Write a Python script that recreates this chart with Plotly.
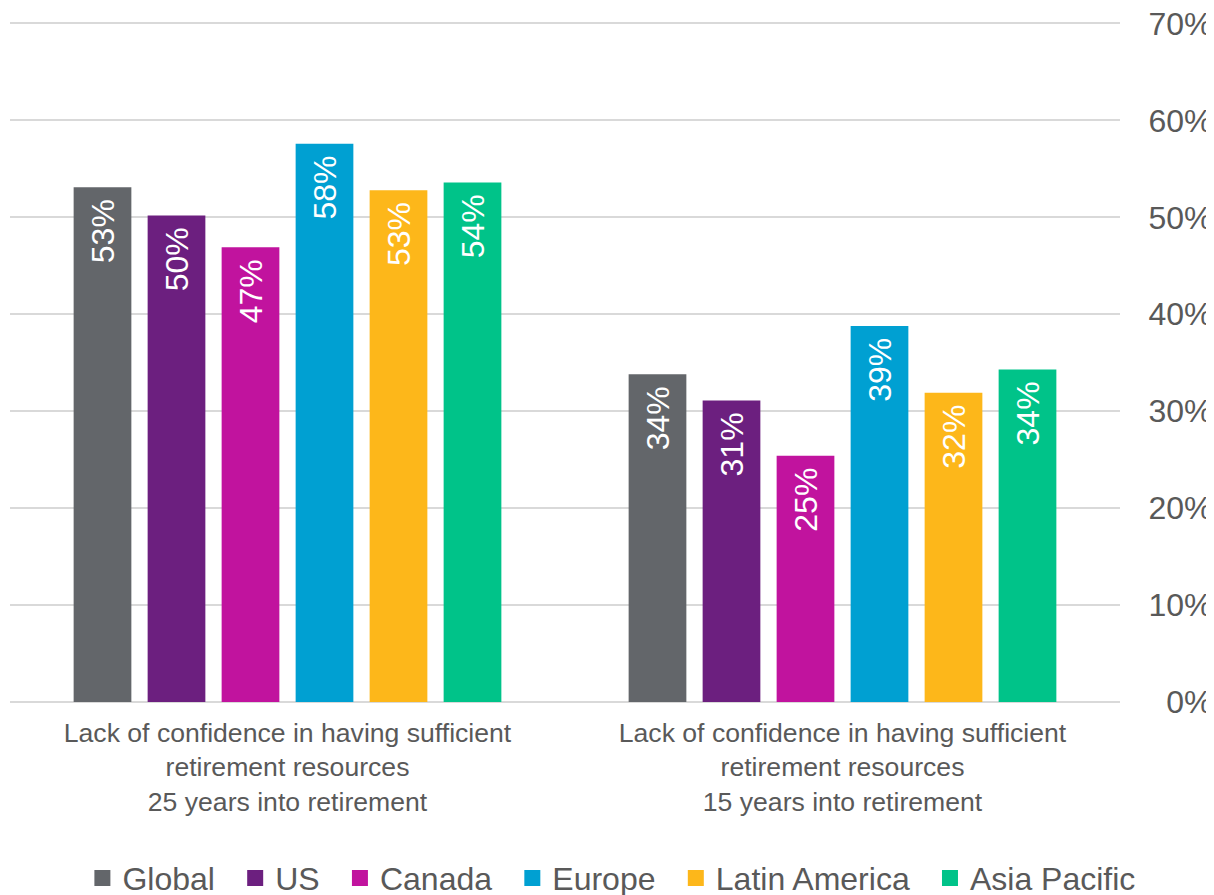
import plotly.graph_objects as go

categories = [
    "Lack of confidence in having sufficient<br>retirement resources<br>25 years into retirement",
    "Lack of confidence in having sufficient<br>retirement resources<br>15 years into retirement",
]
series_names = ["Global", "US", "Canada", "Europe", "Latin America", "Asia Pacific"]
series_values = {
    "Global": [53.1, 33.8],
    "US": [50.2, 31.1],
    "Canada": [46.9, 25.4],
    "Europe": [57.6, 38.8],
    "Latin America": [52.8, 31.9],
    "Asia Pacific": [53.6, 34.3],
}
series_labels = {
    "Global": ["53%", "34%"],
    "US": ["50%", "31%"],
    "Canada": ["47%", "25%"],
    "Europe": ["58%", "39%"],
    "Latin America": ["53%", "32%"],
    "Asia Pacific": ["54%", "34%"],
}
colors = {
    "Global": "#63666A",
    "US": "#6C1F7F",
    "Canada": "#C1139E",
    "Europe": "#00A0D2",
    "Latin America": "#FDB71A",
    "Asia Pacific": "#00C389",
}
tick_vals = [0, 10, 20, 30, 40, 50, 60, 70]
tick_text = ["\u20070%", "10%", "20%", "30%", "40%", "50%", "60%", "70%"]

FONT = "Liberation Sans, Arial, sans-serif"
GREY = "#595959"

fig = go.Figure()
for name in series_names:
    fig.add_trace(go.Bar(
        name=name,
        x=categories,
        y=series_values[name],
        text=[t + "\u00a0" for t in series_labels[name]],
        texttemplate="%{text}",
        textposition="inside",
        insidetextanchor="end",
        textangle=-90,
        textfont=dict(color="white", size=32, family=FONT),
        marker=dict(color=colors[name], line=dict(width=0)),
        hoverinfo="skip",
        showlegend=False,
    ))
# legend entries with larger square swatches
for name in series_names:
    fig.add_trace(go.Scatter(
        name=name + "\u00a0\u2009",
        x=[None], y=[None], mode="markers",
        marker=dict(symbol="square", size=16, color=colors[name], line=dict(width=0)),
        hoverinfo="skip", showlegend=True,
    ))

# page body has an 8px margin, so the figure is 8px smaller and shifted
fig.update_layout(
    width=1206, height=887,
    margin=dict(l=2, r=94, t=14, b=193, autoexpand=False),
    paper_bgcolor="white", plot_bgcolor="white",
    barmode="group", bargap=0.2, bargroupgap=0.22,
    font=dict(family=FONT, color=GREY),
    showlegend=True,
    legend=dict(
        orientation="h", x=0.549, xanchor="center",
        y=-0.259, yanchor="middle",
        font=dict(size=32, color=GREY, family=FONT),
        itemwidth=30, tracegroupgap=0,
    ),
    xaxis=dict(
        showgrid=False, showline=False, ticks="", automargin=False,
        tickfont=dict(size=26.6, color=GREY, family=FONT),
        ticklabelstandoff=12,
    ),
    yaxis=dict(
        side="right", range=[0, 70.15], automargin=False,
        tickvals=tick_vals, ticktext=tick_text,
        showgrid=True, gridcolor="#D9D9D9", gridwidth=1.5,
        zeroline=True, zerolinecolor="#D9D9D9", zerolinewidth=1.5,
        showline=False, ticks="outside", ticklen=21, tickcolor="rgba(0,0,0,0)",
        ticklabeloverflow="allow",
        tickfont=dict(size=32, color=GREY, family=FONT),
    ),
)

fig.write_html("out.html")
